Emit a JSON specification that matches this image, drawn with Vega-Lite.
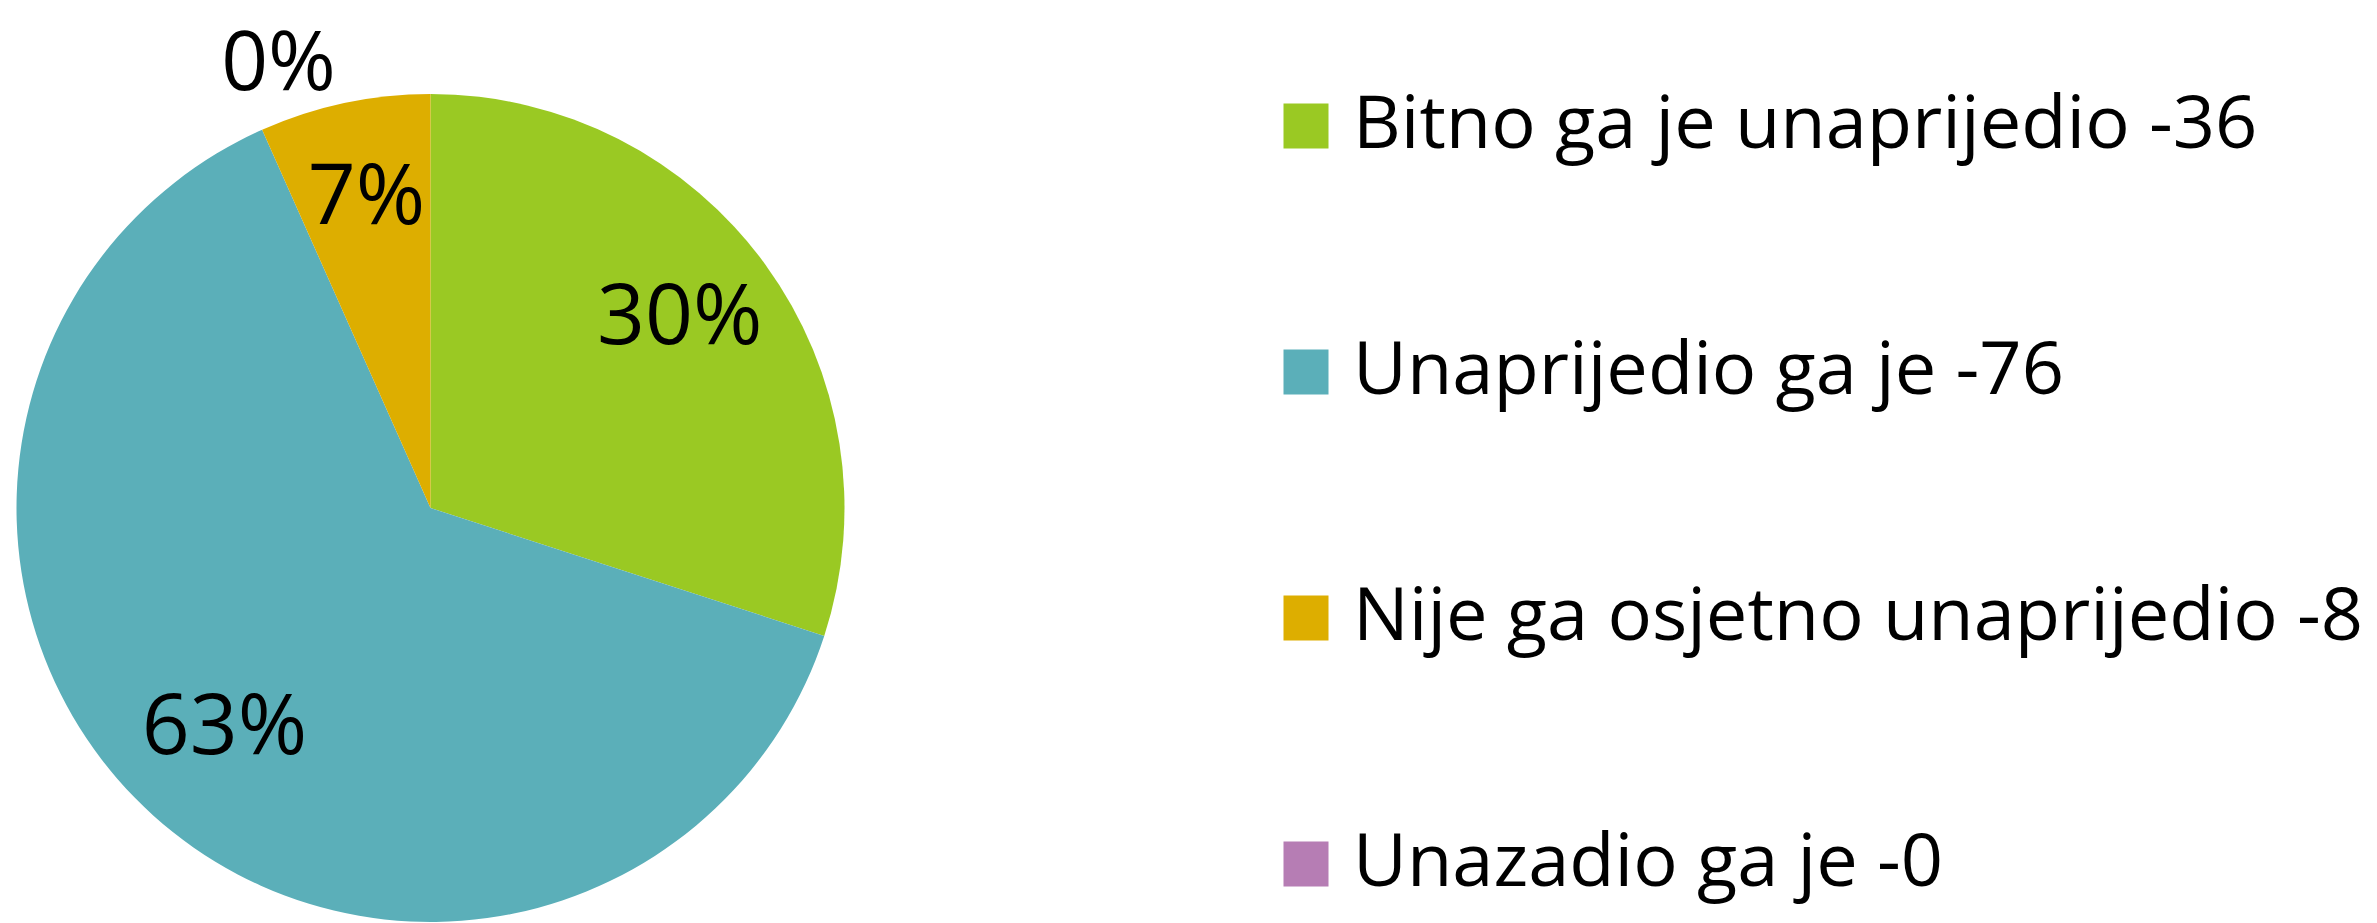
{
  "$schema": "https://vega.github.io/schema/vega-lite/v6.json",
  "autosize": "none",
  "width": 861,
  "height": 830,
  "padding": {"left": 0, "top": 93, "right": 1516, "bottom": 0},
  "background": "white",
  "config": {"view": {"stroke": null}, "font": "Open Sans"},
  "data": {
    "values": [
      {"cat": "Bitno ga je unaprijedio -36", "value": 36, "label": "30%", "ord": 1},
      {"cat": "Unaprijedio ga je -76", "value": 76, "label": "63%", "ord": 2},
      {"cat": "Nije ga osjetno unaprijedio -8", "value": 8, "label": "7%", "ord": 3},
      {"cat": "Unazadio ga je -0", "value": 0, "label": "0%", "ord": 4}
    ]
  },
  "encoding": {
    "theta": {"field": "value", "type": "quantitative", "stack": true},
    "order": {"field": "ord", "type": "quantitative"},
    "color": {
      "field": "cat",
      "type": "nominal",
      "sort": ["Bitno ga je unaprijedio -36", "Unaprijedio ga je -76", "Nije ga osjetno unaprijedio -8", "Unazadio ga je -0"],
      "scale": {
        "domain": ["Bitno ga je unaprijedio -36", "Unaprijedio ga je -76", "Nije ga osjetno unaprijedio -8", "Unazadio ga je -0"],
        "range": ["#9AC923", "#5BAFB9", "#DDAE00", "#B67DB4"]
      },
      "legend": {
        "orient": "none",
        "legendX": 1269,
        "legendY": -4,
        "title": null,
        "padding": 0,
        "symbolType": "square",
        "symbolSize": 2025,
        "symbolStrokeWidth": 0,
        "labelFont": "Open Sans",
        "labelFontSize": 74,
        "labelColor": "black",
        "labelOffset": 10,
        "labelLimit": 2000,
        "rowPadding": 172
      }
    }
  },
  "layer": [
    {"mark": {"type": "arc", "outerRadius": 414, "strokeWidth": 0}},
    {
      "mark": {"type": "text", "radius": 308, "dy": -8, "fontSize": 84, "font": "Open Sans", "color": "black", "align": "center", "baseline": "middle"},
      "encoding": {
        "text": {"field": "label"},
        "color": {"value": "black"},
        "opacity": {"condition": {"test": "datum.value > 0", "value": 1}, "value": 0}
      }
    },
    {
      "mark": {"type": "text", "radius": 480, "dx": -152, "dy": 37, "fontSize": 82, "font": "Open Sans", "color": "black", "align": "center", "baseline": "middle"},
      "encoding": {
        "text": {"field": "label"},
        "color": {"value": "black"},
        "opacity": {"condition": {"test": "datum.value == 0", "value": 1}, "value": 0}
      }
    }
  ]
}
